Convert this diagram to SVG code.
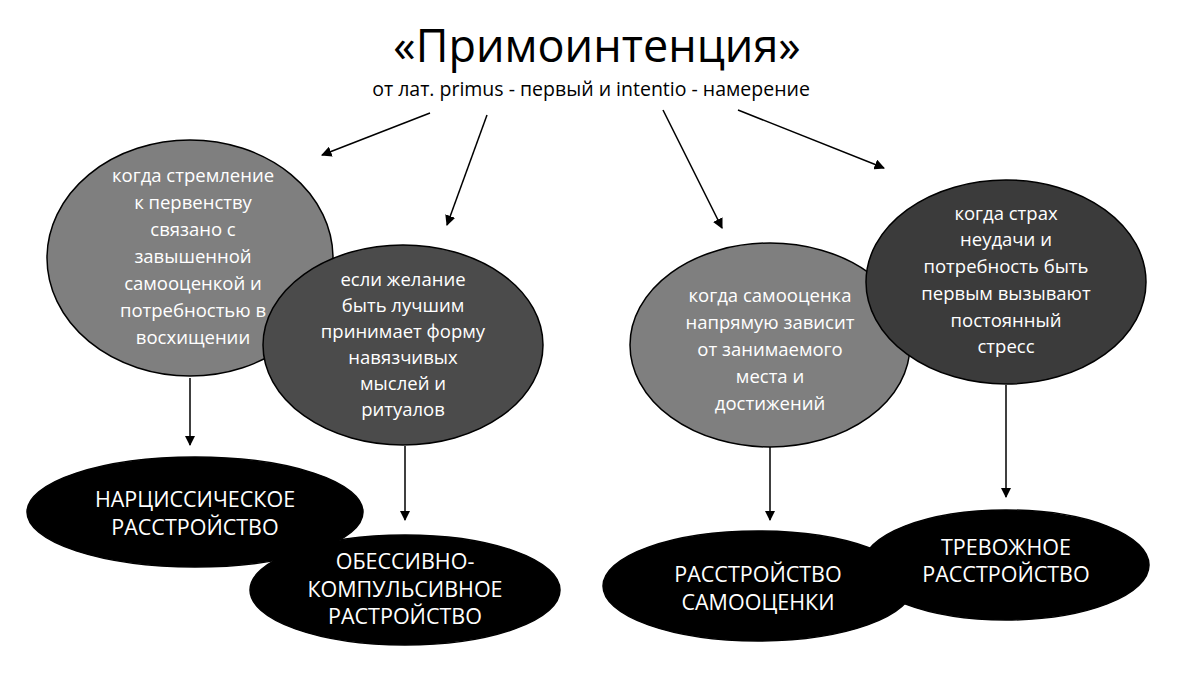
<svg xmlns="http://www.w3.org/2000/svg" width="1200" height="675" viewBox="0 0 1200 675">
<defs><marker id="ah" viewBox="0 0 10 10" refX="9" refY="5" markerWidth="7" markerHeight="7" orient="auto"><path d="M0,0L10,5L0,10z" fill="#000"/></marker></defs>
<style>
.e{stroke:#000;stroke-width:1.5}
.t{font-family:"Open Sans",sans-serif;font-size:18.5px;fill:#fff;text-anchor:middle}
.b{font-family:"Open Sans",sans-serif;font-size:21.5px;fill:#fff;text-anchor:middle}
.c{stroke:#000;stroke-width:1.5;fill:none;marker-end:url(#ah)}
</style>
<rect width="1200" height="675" fill="#fff"/>
<g id="title"><text x="597" y="62" font-family="'Open Sans',sans-serif" font-size="45" text-anchor="middle">«Примоинтенция»</text>
<text x="591" y="96" font-family="'Open Sans',sans-serif" font-size="19.5" text-anchor="middle">от лат. primus - первый и intentio - намерение</text></g>
<g id="connectors">
<line class="c" x1="430" y1="113" x2="322" y2="155"/>
<line class="c" x1="487" y1="115" x2="447" y2="225"/>
<line class="c" x1="663" y1="110" x2="722" y2="228"/>
<line class="c" x1="738" y1="110" x2="884" y2="168"/>
<line class="c" x1="190" y1="378" x2="190" y2="445"/>
<line class="c" x1="405" y1="446" x2="405" y2="520"/>
<line class="c" x1="770" y1="446" x2="770" y2="520"/>
<line class="c" x1="1006" y1="385" x2="1006" y2="497"/>
</g>
<g id="n1"><ellipse class="e" cx="190" cy="258" rx="143" ry="118" fill="#7f7f7f"/>
<text class="t"><tspan x="193" y="182">когда стремление</tspan><tspan x="193" y="209">к первенству</tspan><tspan x="193" y="236">связано с</tspan><tspan x="193" y="263">завышенной</tspan><tspan x="193" y="290">самооценкой и</tspan><tspan x="193" y="317">потребностью в</tspan><tspan x="193" y="344">восхищении</tspan></text></g>
<g id="n2"><ellipse class="e" cx="403" cy="345" rx="140" ry="100" fill="#4b4b4b"/>
<text class="t"><tspan x="403" y="286">если желание</tspan><tspan x="403" y="312">быть лучшим</tspan><tspan x="403" y="338">принимает форму</tspan><tspan x="403" y="364">навязчивых</tspan><tspan x="403" y="390">мыслей и</tspan><tspan x="403" y="416">ритуалов</tspan></text></g>
<g id="n3"><ellipse class="e" cx="770" cy="345" rx="140" ry="102" fill="#7f7f7f"/>
<text class="t"><tspan x="770" y="302">когда самооценка</tspan><tspan x="770" y="329">напрямую зависит</tspan><tspan x="770" y="356">от занимаемого</tspan><tspan x="770" y="383">места и</tspan><tspan x="770" y="410">достижений</tspan></text></g>
<g id="n4"><ellipse class="e" cx="1006" cy="282" rx="140" ry="102" fill="#3b3b3b"/>
<text class="t"><tspan x="1006" y="220">когда страх</tspan><tspan x="1006" y="246">неудачи и</tspan><tspan x="1006" y="273">потребность быть</tspan><tspan x="1006" y="300">первым вызывают</tspan><tspan x="1006" y="327">постоянный</tspan><tspan x="1006" y="353">стресс</tspan></text></g>
<g id="n5"><ellipse class="e" cx="195" cy="512" rx="168" ry="55" fill="#000"/>
<text class="b"><tspan x="195" y="507">НАРЦИССИЧЕСКОЕ</tspan><tspan x="195" y="535">РАССТРОЙСТВО</tspan></text></g>
<g id="n6"><ellipse class="e" cx="405" cy="590" rx="155" ry="55" fill="#000"/>
<text class="b"><tspan x="405" y="569">ОБЕССИВНО-</tspan><tspan x="405" y="597">КОМПУЛЬСИВНОЕ</tspan><tspan x="405" y="624">РАСТРОЙСТВО</tspan></text></g>
<g id="n7"><ellipse class="e" cx="758" cy="586" rx="155" ry="55" fill="#000"/>
<text class="b"><tspan x="758" y="582">РАССТРОЙСТВО</tspan><tspan x="758" y="610">САМООЦЕНКИ</tspan></text></g>
<g id="n8"><ellipse class="e" cx="1006" cy="565" rx="143" ry="55" fill="#000"/>
<text class="b"><tspan x="1006" y="555">ТРЕВОЖНОЕ</tspan><tspan x="1006" y="582">РАССТРОЙСТВО</tspan></text></g>
</svg>
